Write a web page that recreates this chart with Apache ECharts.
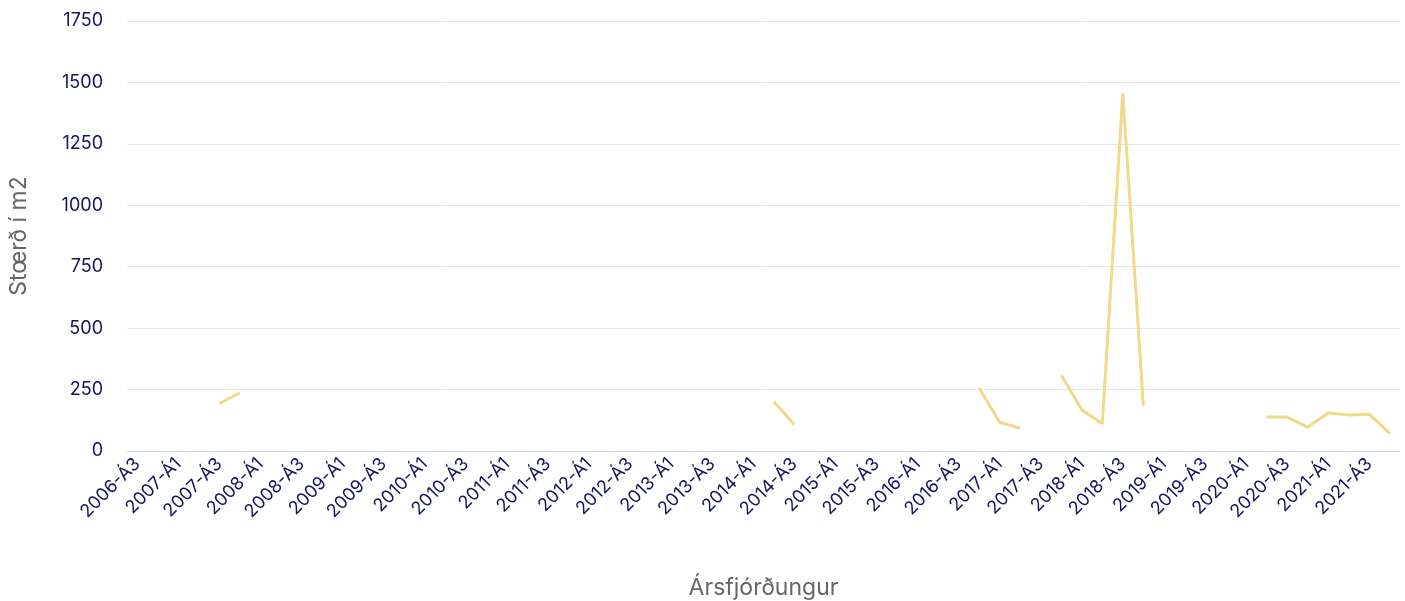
<!DOCTYPE html>
<html>
<head>
<meta charset="utf-8">
<script src="https://cdn.jsdelivr.net/npm/echarts@6/dist/echarts.min.js"></script>
<style>
  html, body { margin: 0; padding: 0; background: #fff; }
  #chart { width: 1405px; height: 601px; }
</style>
</head>
<body>
<div id="chart"></div>
<script>
// ársfjórðungar 2006-Á3 .. 2021-Á4
const quarters = [
  '2006-Á3', '2006-Á4',
  '2007-Á1', '2007-Á2', '2007-Á3', '2007-Á4',
  '2008-Á1', '2008-Á2', '2008-Á3', '2008-Á4',
  '2009-Á1', '2009-Á2', '2009-Á3', '2009-Á4',
  '2010-Á1', '2010-Á2', '2010-Á3', '2010-Á4',
  '2011-Á1', '2011-Á2', '2011-Á3', '2011-Á4',
  '2012-Á1', '2012-Á2', '2012-Á3', '2012-Á4',
  '2013-Á1', '2013-Á2', '2013-Á3', '2013-Á4',
  '2014-Á1', '2014-Á2', '2014-Á3', '2014-Á4',
  '2015-Á1', '2015-Á2', '2015-Á3', '2015-Á4',
  '2016-Á1', '2016-Á2', '2016-Á3', '2016-Á4',
  '2017-Á1', '2017-Á2', '2017-Á3', '2017-Á4',
  '2018-Á1', '2018-Á2', '2018-Á3', '2018-Á4',
  '2019-Á1', '2019-Á2', '2019-Á3', '2019-Á4',
  '2020-Á1', '2020-Á2', '2020-Á3', '2020-Á4',
  '2021-Á1', '2021-Á2', '2021-Á3', '2021-Á4'
];

// stærð í m2, null = engin gögn
const sizes = [
  null, null,
  null, null, 194, 237,
  null, null, null, null,
  null, null, null, null,
  null, null, null, null,
  null, null, null, null,
  null, null, null, null,
  null, null, null, null,
  null, 201, 108, null,
  null, null, null, null,
  null, null, null, 256,
  117, 93, null, 309,
  168, 111, 1458, 185,
  null, null, null, null,
  null, 138, 138, 97,
  155, 147, 150, 72
];

const yTicks = { min: 0, max: 1750, interval: 250 };

const chart = echarts.init(document.getElementById('chart'));
const font = 'Inter, "Noto Sans", sans-serif';

chart.setOption({
  animation: false,
  textStyle: { fontFamily: font },
  grid: { left: 127, right: 5, top: 21, bottom: 150, outerBoundsMode: 'none' },
  xAxis: {
    type: 'category',
    data: quarters,
    boundaryGap: true,
    name: 'Ársfjórðungur',
    nameLocation: 'middle',
    nameGap: 126,
    nameTextStyle: { fontSize: 23, color: '#666666', fontFamily: font },
    axisLine: { lineStyle: { color: '#ccd6eb', width: 1 } },
    axisTick: { show: false },
    axisLabel: {
      interval: 1,
      rotate: 45,
      margin: 10,
      fontSize: 18,
      color: '#14145a',
      fontFamily: font
    },
    splitLine: { show: false }
  },
  yAxis: {
    type: 'value',
    min: yTicks.min,
    max: yTicks.max,
    interval: yTicks.interval,
    name: 'Stœrð í m2',
    nameLocation: 'middle',
    nameGap: 96,
    nameTextStyle: { fontSize: 23, color: '#666666', fontFamily: font },
    axisLine: { show: false },
    axisTick: { show: false },
    axisLabel: {
      fontSize: 18,
      color: '#14145a',
      margin: 24,
      fontFamily: font,
      formatter: (v) => String(v)
    },
    splitLine: { lineStyle: { color: '#e6e6e6', width: 1 } }
  },
  series: [
    {
      type: 'line',
      data: sizes,
      connectNulls: false,
      showSymbol: false,
      symbol: 'none',
      lineStyle: { color: '#f2d98a', width: 3 },
      itemStyle: { color: '#f2d98a' }
    }
  ]
});
</script>
</body>
</html>
